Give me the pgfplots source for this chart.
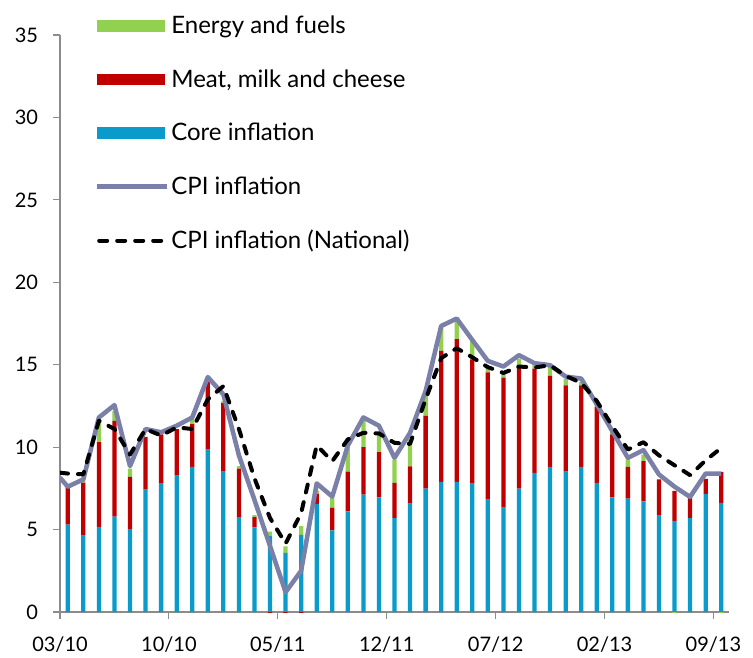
\documentclass[border=0pt]{standalone}
\usepackage{pgfplots}
\usepackage{pgfplotstable}
\pgfplotsset{compat=1.18}
\usepackage{fontspec}
\setmainfont{Lato}

\definecolor{coreblue}{HTML}{0B9BCB}
\definecolor{meatred}{HTML}{C00000}
\definecolor{energygreen}{HTML}{92D050}
\definecolor{cpiline}{HTML}{7A80A8}
\definecolor{axisgrey}{HTML}{8C8C8C}

% monthly contributions, 03/10 (idx 0) to 09/13 (idx 42)
\pgfplotstableread{
idx core meat energy
0  5.30 2.30 0.00
1  4.63 3.22 0.30
2  5.16 5.14 1.30
3  5.78 5.82 0.60
4  5.03 3.17 0.50
5  7.42 3.21 0.00
6  7.81 2.96 0.00
7  8.28 2.82 0.00
8  8.80 2.60 0.30
9  9.85 4.10 0.10
10 8.52 4.15 0.10
11 5.76 2.94 0.15
12 5.13 0.62 0.13
13 4.60 0.00 0.27
14 3.58 0.00 0.40
15 4.68 0.00 0.53
16 6.56 0.60 0.20
17 4.95 1.38 0.59
18 6.10 2.42 1.74
19 7.12 2.88 1.58
20 6.96 2.74 1.17
21 5.70 2.13 1.42
22 6.57 2.27 1.63
23 7.48 4.41 1.31
24 7.89 7.95 1.42
25 7.89 8.66 1.12
26 7.79 7.54 1.12
27 6.82 7.71 0.30
28 6.33 7.89 0.20
29 7.48 7.35 0.54
30 8.44 6.33 0.20
31 8.80 5.52 0.57
32 8.52 5.23 0.37
33 8.80 4.95 0.20
34 7.83 4.60 0.27
35 6.96 3.81 0.20
36 6.88 1.92 0.45
37 6.71 2.44 0.40
38 5.84 2.20 0.00
39 5.53 1.82 0.00
40 5.69 1.22 0.00
41 7.16 0.92 0.00
42 6.62 1.88 0.00
}\bars

\pgfplotstableread{
idx cpi national
-0.5 8.15 8.45
0  7.60 8.40
1  8.05 8.35
2  11.80 11.60
3  12.55 11.10
4  8.85 9.55
5  11.10 11.10
6  10.90 10.70
7  11.30 11.20
8  11.80 11.10
9  14.25 12.90
10 13.20 13.70
11 9.50 11.10
12 6.80 8.10
13 4.00 5.70
14 1.20 4.15
15 2.50 6.00
16 7.80 10.10
17 7.00 9.15
18 10.10 10.47
19 11.80 10.87
20 11.30 10.83
21 9.35 10.26
22 10.87 10.20
23 13.40 12.90
24 17.35 15.40
25 17.80 16.00
26 16.50 15.45
27 15.23 14.85
28 14.89 14.50
29 15.58 14.89
30 15.09 14.83
31 14.97 14.97
32 14.28 14.32
33 14.16 13.90
34 12.60 12.80
35 10.97 11.28
36 9.35 9.86
37 9.82 10.30
38 8.34 9.50
39 7.60 8.90
40 6.98 8.30
41 8.40 9.20
42 8.40 9.95
}\lines

\begin{document}
\begin{tikzpicture}
\pgfplotsset{
  base/.style={
    scale only axis, width=501.75pt, height=432.75pt,
    xmin=-0.5, xmax=42.5, ymin=0, ymax=35,
  },
}
\begin{axis}[
  base,
  ybar stacked, bar width=3.2pt,
  axis lines*=left,
  axis line style={axisgrey, line width=0.8pt},
  xtick={-0.5,6.5,13.5,20.5,27.5,34.5,41.5},
  xticklabels={03/10,10/10,05/11,12/11,07/12,02/13,09/13},
  ytick={0,5,...,35},
  tick align=outside, major tick length=5pt,
  tick style={axisgrey, line width=0.8pt},
  tick label style={font=\fontsize{15}{17}\selectfont},
  /pgf/number format/assume math mode=true,
  yticklabel style={xshift=-8pt},
  xticklabel style={yshift=-10pt},
]
\addplot[fill=coreblue, draw=none] table[x=idx, y=core] {\bars};
\addplot[fill=meatred, draw=none] table[x=idx, y=meat] {\bars};
\addplot[fill=energygreen, draw=none] table[x=idx, y=energy] {\bars};
\coordinate (bl) at (rel axis cs:0,0);
\coordinate (tr) at (rel axis cs:1,1);
\end{axis}

% lines, the small negative contributions and the legend go on an overlay axis
\begin{axis}[
  base, hide axis,
  legend style={at={(axis description cs:0.052,1.0385)}, anchor=north west,
    draw=none, fill=none, font=\fontsize{18}{20}\selectfont,
    row sep=21.5pt, inner sep=0pt},
  legend cell align=left,
]
\addlegendimage{legend image code/.code={\fill[energygreen] (0pt,-4pt) rectangle (50pt,4pt);}}
\addlegendentry{Energy and fuels}
\addlegendimage{legend image code/.code={\fill[meatred] (0pt,-4pt) rectangle (50pt,4pt);}}
\addlegendentry{Meat, milk and cheese}
\addlegendimage{legend image code/.code={\fill[coreblue] (0pt,-4pt) rectangle (50pt,4pt);}}
\addlegendentry{Core inflation}
\addlegendimage{legend image code/.code={\draw[cpiline, line width=3.2pt] (0pt,0pt) -- (52pt,0pt);}}
\addlegendentry{CPI inflation}
\addlegendimage{legend image code/.code={\draw[black, line width=3pt, line cap=round, dash pattern=on 6pt off 7.5pt] (1.5pt,0pt) -- (52pt,0pt);}}
\addlegendentry{CPI inflation (National)}

\addplot[ybar, bar width=3.2pt, bar shift=0pt, fill=meatred, draw=none, forget plot]
  coordinates {(13,-0.12) (14,-0.12) (15,-0.12)};
\addplot[ybar, bar width=3.2pt, bar shift=0pt, fill=energygreen, draw=none, forget plot]
  coordinates {(39,-0.1) (42,-0.1)};
\addplot[cpiline, line width=3.4pt, line join=round, mark=none, forget plot]
  table[x=idx, y=cpi] {\lines};
\addplot[black, line width=3pt, line cap=round, line join=round,
  dash pattern=on 6pt off 7.5pt, mark=none, forget plot]
  table[x=idx, y=national] {\lines};
\end{axis}
\pgfresetboundingbox
\useasboundingbox ([shift={(-45pt,-33.75pt)}]bl) rectangle ([shift={(18pt,26.25pt)}]tr);
\end{tikzpicture}
\end{document}
